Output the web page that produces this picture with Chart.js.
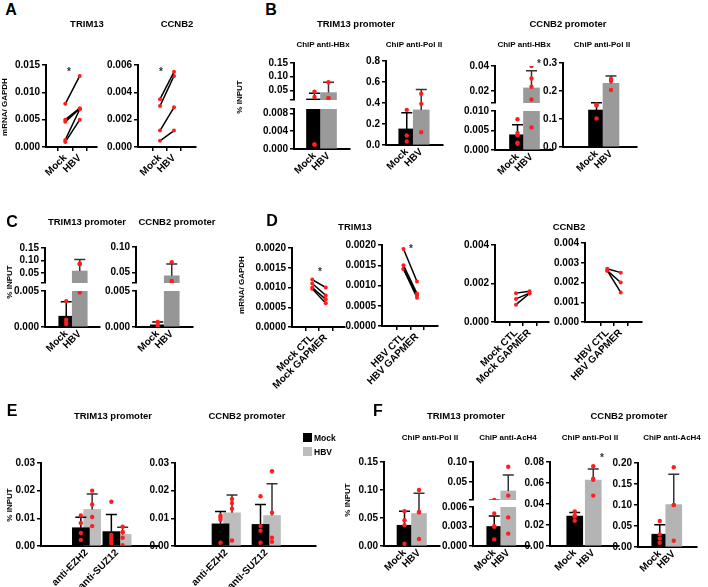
<!DOCTYPE html>
<html>
<head>
<meta charset="utf-8">
<script src="https://cdn.jsdelivr.net/npm/chart.js@4"></script>
<style>
body { margin: 0; background: #fff; overflow: hidden; }
#fig { position: relative; width: 708px; height: 587px; font-family: 'Liberation Sans', Arial, sans-serif; font-weight: bold; color: #000; }
#fig canvas { position: absolute; }
.t { position: absolute; white-space: nowrap; line-height: 1; transform: translate(-50%, -50%); }
.v { position: absolute; white-space: nowrap; line-height: 1; transform: translate(-50%, -50%) rotate(-90deg); }
.sq { position: absolute; width: 9px; height: 9px; }
</style>
</head>
<body>
<div id="fig"></div>
<script>
// categories
var mockHbv = ['Mock', 'HBV'];
var mockGap = ['Mock CTL', 'Mock GAPMER'];
var hbvGap = ['HBV CTL', 'HBV GAPMER'];
var antibodies = ['anti-EZH2', 'anti-SUZ12'];
var seriesNames = ['Mock', 'HBV'];

// A - mRNA/GAPDH, paired Mock -> HBV
var aTrim13Mock = [0.0079, 0.0050, 0.0046, 0.0013, 0.0009];
var aTrim13Hbv = [0.0130, 0.0071, 0.0070, 0.0069, 0.0050];
var aCcnb2Mock = [0.0035, 0.0030, 0.0012, 0.00045];
var aCcnb2Hbv = [0.0055, 0.0052, 0.0029, 0.0012];

// B - ChIP % input (mean, sd, single points)
var bTrimHbxMean = [0.019, 0.042];
var bTrimHbxSd = [0.021, 0.038];
var bTrimHbxMockPts = [0.045, 0.026, 0.001, 0.001];
var bTrimHbxHbvPts = [0.080, 0.022, 0.022];
var bTrimPolMean = [0.153, 0.334];
var bTrimPolSd = [0.154, 0.195];
var bTrimPolMockPts = [0.335, 0.090, 0.033];
var bTrimPolHbvPts = [0.488, 0.392, 0.122];
var bCcnbHbxMean = [0.0039, 0.0225];
var bCcnbHbxSd = [0.0026, 0.0137];
var bCcnbHbxMockPts = [0.0079, 0.0044, 0.0038, 0.0019, 0.0016];
var bCcnbHbxHbvPts = [0.040, 0.030, 0.0234, 0.0133, 0.0058];
var bCcnbPolMean = [0.132, 0.227];
var bCcnbPolSd = [0.026, 0.027];
var bCcnbPolMockPts = [0.148, 0.152, 0.102];
var bCcnbPolHbvPts = [0.243, 0.236, 0.204];

// C
var cTrimMean = [0.0015, 0.058];
var cTrimSd = [0.002, 0.046];
var cTrimMockPts = [0.0036, 0.0010, 0.0007, 0.0004];
var cTrimHbvPts = [0.088, 0.085, 0.0048];
var cCcnbMean = [0.0003, 0.044];
var cCcnbSd = [0.0004, 0.023];
var cCcnbMockPts = [0.0007, 0.0006, 0.0001];
var cCcnbHbvPts = [0.0705, 0.034, 0.031];

// D - mRNA/GAPDH, paired CTL -> GAPMER
var dTrimMockCtl = [0.0012, 0.0011, 0.0010, 0.00097];
var dTrimMockGap = [0.0010, 0.0008, 0.0007, 0.0006];
var dTrimHbvCtl = [0.0019, 0.0015, 0.00142, 0.0014];
var dTrimHbvGap = [0.0011, 0.0008, 0.00076, 0.0007];
var dCcnbMockCtl = [0.0015, 0.0012, 0.0009];
var dCcnbMockGap = [0.0016, 0.0015, 0.00148];
var dCcnbHbvCtl = [0.0027, 0.0026, 0.0026];
var dCcnbHbvGap = [0.0025, 0.0020, 0.0015];

// E - grouped, per antibody
var eTrimMockMean = [0.0066, 0.0052];
var eTrimMockSd = [0.0038, 0.0062];
var eTrimHbvMean = [0.0132, 0.0042];
var eTrimHbvSd = [0.0056, 0.0026];
var eTrimMockPts = [[0.011, 0.0083, 0.0047, 0.0022], [0.016, 0.004, 0.003, 0.002, 0.001]];
var eTrimHbvPts = [[0.020, 0.015, 0.0105, 0.0072], [0.007, 0.005, 0.005, 0.003, 0.0003]];
var eCcnbMockMean = [0.0080, 0.0078];
var eCcnbMockSd = [0.0045, 0.0072];
var eCcnbHbvMean = [0.0120, 0.0110];
var eCcnbHbvSd = [0.0064, 0.0115];
var eCcnbMockPts = [[0.011, 0.0103, 0.0095, 0.0012], [0.018, 0.0072, 0.0055, 0.0012]];
var eCcnbHbvPts = [[0.017, 0.0155, 0.0135, 0.002], [0.027, 0.012, 0.003, 0.0015]];

// F
var fTrimPolMean = [0.037, 0.058];
var fTrimPolSd = [0.025, 0.036];
var fTrimPolMockPts = [0.062, 0.046, 0.037, 0.004];
var fTrimPolHbvPts = [0.100, 0.061, 0.060, 0.0125];
var fTrimAcMean = [0.0030, 0.0276];
var fTrimAcSd = [0.0016, 0.040];
var fTrimAcMockPts = [0.005, 0.003, 0.003, 0.001];
var fTrimAcHbvPts = [0.088, 0.016, 0.0044, 0.0019];
var fCcnbPolMean = [0.0285, 0.0628];
var fCcnbPolSd = [0.0035, 0.0105];
var fCcnbPolMockPts = [0.033, 0.029, 0.028, 0.024];
var fCcnbPolHbvPts = [0.076, 0.064, 0.063, 0.048];
var fCcnbAcMean = [0.0305, 0.101];
var fCcnbAcSd = [0.0225, 0.072];
var fCcnbAcMockPts = [0.062, 0.030, 0.020, 0.010];
var fCcnbAcHbvPts = [0.190, 0.100, 0.100, 0.015];

// tick labels
var ticksA1 = [0, 0.005, 0.010, 0.015];
var ticksA2 = [0, 0.002, 0.004, 0.006];
var ticksB1Up = [0.05, 0.10, 0.15];
var ticksB1Lo = [0, 0.004, 0.008];
var ticksB2 = [0, 0.2, 0.4, 0.6, 0.8];
var ticksB3Up = [0.02, 0.04];
var ticksB3Lo = [0, 0.005, 0.010];
var ticksB4 = [0, 0.1, 0.2, 0.3];
var ticksC1Up = [0.05, 0.10, 0.15];
var ticksC2Up = [0.05, 0.10];
var ticksCLo = [0, 0.005];
var ticksD12 = [0, 0.0005, 0.0010, 0.0015, 0.0020];
var ticksD3 = [0, 0.002, 0.004];
var ticksD4 = [0, 0.001, 0.002, 0.003, 0.004];
var ticksE = [0, 0.01, 0.02, 0.03];
var ticksF1 = [0, 0.05, 0.10, 0.15];
var ticksF2Up = [0.05, 0.10];
var ticksF2Lo = [0, 0.003, 0.006];
var ticksF3 = [0, 0.02, 0.04, 0.06, 0.08];
var ticksF4 = [0, 0.05, 0.10, 0.15, 0.20];

// ---- drawing ----
var YW = 40, PT = 8, PR = 10, PB = 8, XH = 62;
var RED = '#ff1e1e';
var fig = document.getElementById('fig');

Chart.defaults.font.family = "'Liberation Sans', Arial, sans-serif";
Chart.defaults.font.weight = 'bold';
Chart.defaults.font.size = 10;
Chart.defaults.color = '#000';

// mean + SD whiskers, drawn right after each bar dataset
var errBars = {
  id: 'errBars',
  afterDatasetDraw: function (chart, args) {
    var ds = chart.data.datasets[args.index];
    if (!ds.sd) return;
    var ctx = chart.ctx, a = chart.chartArea, ys = chart.scales.y;
    ctx.save();
    ctx.beginPath();
    ctx.rect(a.left - 10, a.top - 1, a.right - a.left + 20, a.bottom - a.top + 1);
    ctx.clip();
    ctx.lineWidth = 1.5;
    args.meta.data.forEach(function (el, j) {
      var v = ds.data[j].y;
      var y0 = ys.getPixelForValue(v), y1 = ys.getPixelForValue(v + ds.sd[j]);
      ctx.strokeStyle = ds.sdColor[j];
      ctx.beginPath();
      ctx.moveTo(el.x, y0); ctx.lineTo(el.x, y1);
      ctx.moveTo(el.x - 5.5, y1); ctx.lineTo(el.x + 5.5, y1);
      ctx.stroke();
    });
    ctx.restore();
  }
};

function xAxis(bx, cats, drawTicks) {
  var u = bx.p2 - bx.p1;
  return {
    type: 'linear', display: !bx.hideX,
    min: 1 - (bx.p1 - bx.l) / u, max: 1 + (bx.r - bx.p1) / u,
    afterBuildTicks: function (s) { s.ticks = cats.map(function (c, i) { return { value: i + 1 }; }); },
    ticks: { autoSkip: false, minRotation: 45, maxRotation: 45, padding: 1,
      callback: function (v, i) { return cats[i]; } },
    grid: { drawOnChartArea: false, drawTicks: drawTicks, tickLength: 4, color: '#000', lineWidth: 1.5 },
    border: { color: '#000', width: 2 },
    afterFit: function (s) { s.height = bx.hideX ? 0 : XH; }
  };
}

function yAxis(min, max, yt, dec, brk) {
  var all = yt.slice();
  if (brk !== undefined) all.push(brk);
  all.sort(function (a, b) { return a - b; });
  return {
    type: 'linear', min: min, max: max,
    afterBuildTicks: function (s) { s.ticks = all.map(function (v) { return { value: v }; }); },
    ticks: { autoSkip: false, padding: 2,
      callback: function (v) { return yt.indexOf(v) >= 0 ? v.toFixed(dec) : ''; } },
    grid: { drawOnChartArea: false, tickLength: 4, color: '#000', lineWidth: 1.5 },
    border: { color: '#000', width: 2 },
    afterFit: function (s) { s.width = YW; }
  };
}

function makeChart(bx, xAx, yAx, datasets) {
  var c = document.createElement('canvas');
  c.width = bx.r - bx.l + YW + PR;
  c.height = bx.b - bx.t + PT + (bx.hideX ? PB : XH);
  c.style.left = (bx.l - YW) + 'px';
  c.style.top = (bx.t - PT) + 'px';
  fig.appendChild(c);
  return new Chart(c, {
    type: 'bar',
    data: { datasets: datasets },
    options: {
      responsive: false, animation: false, devicePixelRatio: 1,
      layout: { padding: { top: PT, right: PR, bottom: bx.hideX ? PB : 0, left: 0 } },
      plugins: { legend: { display: false }, tooltip: { enabled: false } },
      scales: { x: xAx, y: yAx }
    },
    plugins: [errBars]
  });
}

function pairSets(before, after) {
  return before.map(function (v, i) {
    return { type: 'line', data: [{ x: 1, y: v }, { x: 2, y: after[i] }], borderColor: '#000', borderWidth: 1.5,
      pointRadius: 2, pointBackgroundColor: RED, pointBorderWidth: 0, clip: false };
  });
}

function barSets(xs, means, sds, pts, colors, errColors, bw, min, max) {
  var pdata = [];
  pts.forEach(function (arr, i) {
    arr.forEach(function (v) { if (v >= min && v <= max) pdata.push({ x: xs[i], y: v }); });
  });
  return [
    { type: 'bar', data: means.map(function (m, i) { return { x: xs[i], y: m }; }), backgroundColor: colors,
      barThickness: bw, grouped: false, clip: 0, borderWidth: 0, sd: sds, sdColor: errColors, order: 2 },
    { type: 'scatter', data: pdata, pointRadius: 2.2, backgroundColor: RED, pointBorderWidth: 0, order: 1 }
  ];
}

function pairChart(bx, cats, min, max, yt, dec, before, after) {
  makeChart(bx, xAxis(bx, cats, true), yAxis(min, max, yt, dec), pairSets(before, after));
}

function mhChart(bx, min, max, yt, dec, brk, mean, sd, mockPts, hbvPts, gray, bw) {
  var sets = barSets([1, 2], mean, sd, [mockPts, hbvPts], ['#000', gray], ['#000', '#333'], bw, min, max);
  makeChart(bx, xAxis(bx, mockHbv, false), yAxis(min, max, yt, dec, brk), sets);
}

function groupChart(bx, mMean, mSd, hMean, hSd, mPts, hPts, gray) {
  var d = bx.off / (bx.p2 - bx.p1);
  var xm = antibodies.map(function (a, i) { return i + 1 - d; });
  var xh = antibodies.map(function (a, i) { return i + 1 + d; });
  var sets = barSets(xm, mMean, mSd, mPts, '#000', ['#000', '#000'], 17, 0, 0.03)
    .concat(barSets(xh, hMean, hSd, hPts, gray, ['#333', '#333'], 17, 0, 0.03));
  makeChart(bx, xAxis(bx, antibodies, false), yAxis(0, 0.03, ticksE, 2), sets);
}

function txt(s, x, y, size, cls, color) {
  var d = document.createElement('div');
  d.className = cls || 't';
  d.textContent = s;
  d.style.left = x + 'px';
  d.style.top = y + 'px';
  d.style.fontSize = size + 'px';
  if (color) d.style.color = color;
  fig.appendChild(d);
}

// A
pairChart({ l: 46, t: 65, r: 97, b: 147, p1: 59, p2: 88 }, mockHbv, 0, 0.015, ticksA1, 3, aTrim13Mock, aTrim13Hbv);
pairChart({ l: 138, t: 65, r: 196, b: 147, p1: 153, p2: 181 }, mockHbv, 0, 0.006, ticksA2, 3, aCcnb2Mock, aCcnb2Hbv);

// B
var grayB = '#9a9a9a';
mhChart({ l: 294, t: 63, r: 350, b: 100, p1: 307, p2: 335, hideX: true }, 0.015, 0.15, ticksB1Up, 2, 0.015,
  bTrimHbxMean, bTrimHbxSd, bTrimHbxMockPts, bTrimHbxHbvPts, grayB, 16);
mhChart({ l: 294, t: 109, r: 350, b: 149, p1: 307, p2: 335 }, 0, 0.009, ticksB1Lo, 3, 0.009,
  bTrimHbxMean, bTrimHbxSd, bTrimHbxMockPts, bTrimHbxHbvPts, grayB, 16);
mhChart({ l: 386, t: 61, r: 443, b: 145, p1: 399, p2: 428 }, 0, 0.8, ticksB2, 1, undefined,
  bTrimPolMean, bTrimPolSd, bTrimPolMockPts, bTrimPolHbvPts, grayB, 16);
mhChart({ l: 495, t: 66, r: 553, b: 103, p1: 511, p2: 539, hideX: true }, 0.0105, 0.04, ticksB3Up, 2, 0.0105,
  bCcnbHbxMean, bCcnbHbxSd, bCcnbHbxMockPts, bCcnbHbxHbvPts, grayB, 16);
mhChart({ l: 495, t: 111, r: 553, b: 150, p1: 511, p2: 539 }, 0, 0.010, ticksB3Lo, 3, undefined,
  bCcnbHbxMean, bCcnbHbxSd, bCcnbHbxMockPts, bCcnbHbxHbvPts, grayB, 16);
mhChart({ l: 563, t: 63, r: 637, b: 147, p1: 593, p2: 622 }, 0, 0.3, ticksB4, 1, undefined,
  bCcnbPolMean, bCcnbPolSd, bCcnbPolMockPts, bCcnbPolHbvPts, grayB, 16);

// C
var grayC = '#969696';
mhChart({ l: 45, t: 248, r: 100, b: 283, p1: 60, p2: 87, hideX: true }, 0.01, 0.15, ticksC1Up, 2, 0.01,
  cTrimMean, cTrimSd, cTrimMockPts, cTrimHbvPts, grayC, 15);
mhChart({ l: 45, t: 291, r: 100, b: 327, p1: 60, p2: 87 }, 0, 0.005, ticksCLo, 3, undefined,
  cTrimMean, cTrimSd, cTrimMockPts, cTrimHbvPts, grayC, 15);
mhChart({ l: 136, t: 247, r: 193, b: 283, p1: 151, p2: 179, hideX: true }, 0.03, 0.10, ticksC2Up, 2, 0.03,
  cCcnbMean, cCcnbSd, cCcnbMockPts, cCcnbHbvPts, grayC, 15);
mhChart({ l: 136, t: 291, r: 193, b: 327, p1: 151, p2: 179 }, 0, 0.005, ticksCLo, 3, undefined,
  cCcnbMean, cCcnbSd, cCcnbMockPts, cCcnbHbvPts, grayC, 15);

// D
pairChart({ l: 292, t: 248, r: 345, b: 327, p1: 306, p2: 333 }, mockGap, 0, 0.002, ticksD12, 4, dTrimMockCtl, dTrimMockGap);
pairChart({ l: 382, t: 245, r: 438, b: 326, p1: 397, p2: 424 }, hbvGap, 0, 0.002, ticksD12, 4, dTrimHbvCtl, dTrimHbvGap);
pairChart({ l: 495, t: 245, r: 549, b: 322, p1: 510, p2: 537 }, mockGap, 0, 0.004, ticksD3, 3, dCcnbMockCtl, dCcnbMockGap);
pairChart({ l: 585, t: 243, r: 642, b: 322, p1: 601, p2: 628 }, hbvGap, 0, 0.004, ticksD4, 3, dCcnbHbvCtl, dCcnbHbvGap);

// E
var grayE = '#bdbdbd';
groupChart({ l: 41, t: 463, r: 159, b: 546, p1: 73, p2: 134, off: 11.3 },
  eTrimMockMean, eTrimMockSd, eTrimHbvMean, eTrimHbvSd, eTrimMockPts, eTrimHbvPts, grayE);
groupChart({ l: 175, t: 463, r: 316, b: 546, p1: 207, p2: 287, off: 11.5 },
  eCcnbMockMean, eCcnbMockSd, eCcnbHbvMean, eCcnbHbvSd, eCcnbMockPts, eCcnbHbvPts, grayE);

// F
var grayF = '#b4b4b4';
mhChart({ l: 384, t: 462, r: 440, b: 546, p1: 397, p2: 426 }, 0, 0.15, ticksF1, 2, undefined,
  fTrimPolMean, fTrimPolSd, fTrimPolMockPts, fTrimPolHbvPts, grayF, 15);
mhChart({ l: 473, t: 462, r: 530, b: 500, p1: 487, p2: 515, hideX: true }, 0.005, 0.10, ticksF2Up, 2, 0.005,
  fTrimAcMean, fTrimAcSd, fTrimAcMockPts, fTrimAcHbvPts, grayF, 15);
mhChart({ l: 473, t: 507, r: 530, b: 546, p1: 487, p2: 515 }, 0, 0.006, ticksF2Lo, 3, undefined,
  fTrimAcMean, fTrimAcSd, fTrimAcMockPts, fTrimAcHbvPts, grayF, 15);
mhChart({ l: 550, t: 462, r: 619, b: 546, p1: 565, p2: 602 }, 0, 0.08, ticksF3, 2, undefined,
  fCcnbPolMean, fCcnbPolSd, fCcnbPolMockPts, fCcnbPolHbvPts, grayF, 16);
mhChart({ l: 638, t: 463, r: 697, b: 547, p1: 652, p2: 680 }, 0, 0.20, ticksF4, 2, undefined,
  fCcnbAcMean, fCcnbAcSd, fCcnbAcMockPts, fCcnbAcHbvPts, grayF, 16);

// panel letters
txt('A', 11, 10, 16); txt('B', 271, 10, 16); txt('C', 12, 222, 16);
txt('D', 272, 221, 16); txt('E', 12, 411, 16); txt('F', 378, 411, 16);

// titles
txt('TRIM13', 87, 24, 9.5); txt('CCNB2', 177, 24, 9.5);
txt('TRIM13 promoter', 356, 24, 9.5); txt('CCNB2 promoter', 568, 24, 9.5);
txt('ChiP anti-HBx', 323, 45, 8); txt('ChiP anti-Pol II', 414, 45, 8);
txt('ChiP anti-HBx', 524, 45, 8); txt('ChiP anti-Pol II', 602, 45, 8);
txt('TRIM13 promoter', 87, 222, 9.5); txt('CCNB2 promoter', 177, 222, 9.5);
txt('TRIM13', 355, 227, 9.5); txt('CCNB2', 569, 227, 9.5);
txt('TRIM13 promoter', 113, 416, 9.5); txt('CCNB2 promoter', 247, 416, 9.5);
txt('TRIM13 promoter', 466, 416, 9.5); txt('CCNB2 promoter', 629, 416, 9.5);
txt('ChiP anti-Pol II', 430, 438, 8); txt('ChiP anti-AcH4', 508, 438, 8);
txt('ChiP anti-Pol II', 590, 438, 8); txt('ChiP anti-AcH4', 672, 438, 8);

// axis titles
txt('mRNA/ GAPDH', 5, 107, 8, 'v'); txt('% INPUT', 240, 97, 8, 'v');
txt('% INPUT', 10, 282, 8, 'v'); txt('mRNA/ GAPDH', 242, 285, 8, 'v');
txt('% INPUT', 10, 505, 8, 'v'); txt('% INPUT', 348, 500, 8, 'v');

// significance marks
txt('*', 69, 72, 10, 't', '#333'); txt('*', 161, 72, 10, 't', '#333');
txt('*', 539, 64, 10, 't', '#333'); txt('*', 320, 272, 10, 't', '#333');
txt('*', 411, 249, 10, 't', '#333'); txt('*', 602, 458, 10, 't', '#333');

// legend for E
[['#000', 437.5], [grayE, 451.5]].forEach(function (it, i) {
  var s = document.createElement('div');
  s.className = 'sq';
  s.style.background = it[0];
  s.style.left = '303px';
  s.style.top = (it[1] - 4.5) + 'px';
  fig.appendChild(s);
  var d = document.createElement('div');
  d.className = 't';
  d.style.transform = 'translate(0, -50%)';
  d.style.left = '314px';
  d.style.top = it[1] + 'px';
  d.style.fontSize = '8.5px';
  d.textContent = seriesNames[i];
  fig.appendChild(d);
});
</script>
</body>
</html>
